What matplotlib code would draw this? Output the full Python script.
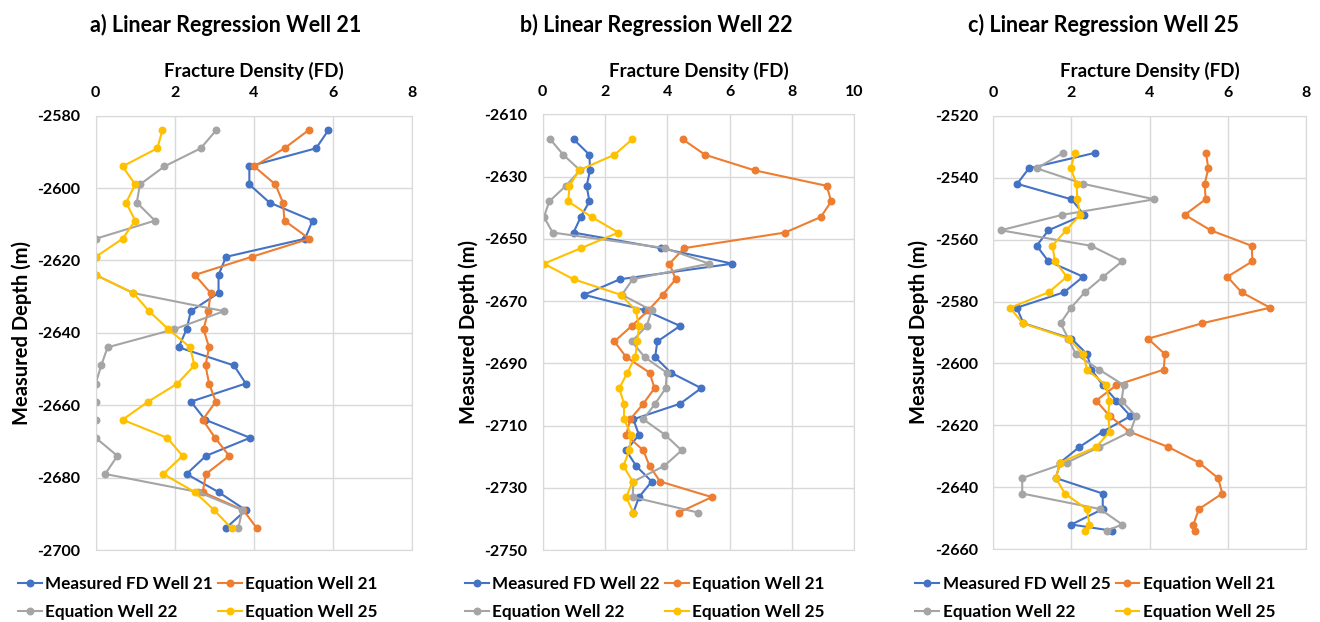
import matplotlib.pyplot as plt
import numpy as np

plt.rcParams['font.family'] = ['Lato', 'DejaVu Sans']
plt.rcParams['font.weight'] = 'bold'
plt.rcParams['axes.unicode_minus'] = False   # plain hyphen like the Excel original

# Excel default series colours
c_blue, c_orange, c_gray, c_yellow = '#4472C4', '#ED7D31', '#A5A5A5', '#FFC000'

# ---- a) Well 21 ----
depth_a = [-2584, -2589, -2594, -2599, -2604, -2609, -2614, -2619, -2624, -2629, -2634, -2639,
           -2644, -2649, -2654, -2659, -2664, -2669, -2674, -2679, -2684, -2689, -2694]
meas_a = [5.89, 5.58, 3.89, 3.89, 4.40, 5.49, 5.30, 3.30, 3.11, 3.11, 2.41, 2.30,
          2.10, 3.50, 3.80, 2.41, 2.77, 3.91, 2.79, 2.30, 3.11, 3.80, 3.29]
eq21_a = [5.39, 4.78, 4.01, 4.55, 4.74, 4.78, 5.41, 3.95, 2.51, 2.91, 2.85, 2.73,
          2.87, 2.78, 2.87, 3.04, 2.71, 3.02, 3.38, 2.79, 2.71, 3.74, 4.08]
eq22_a = [3.05, 2.66, 1.74, 1.12, 1.04, 1.50, 0.0, 0.0, 0.0, 0.95, 3.25, 1.99,
          0.30, 0.14, 0.0, 0.0, 0.0, 0.0, 0.55, 0.24, 2.60, 3.71, 3.61]
eq25_a = [1.69, 1.56, 0.68, 1.00, 0.77, 1.00, 0.68, 0.0, 0.0, 0.95, 1.35, 1.84,
          2.39, 2.50, 2.07, 1.33, 0.68, 1.81, 2.20, 1.71, 2.51, 3.00, 3.44]

# ---- b) Well 22 ----
depth_b = [-2618, -2623, -2628, -2633, -2638, -2643, -2648, -2653, -2658, -2663, -2668, -2673, -2678,
           -2683, -2688, -2693, -2698, -2703, -2708, -2713, -2718, -2723, -2728, -2733, -2738]
meas_b = [0.99, 1.50, 1.52, 1.41, 1.50, 1.22, 0.99, 3.79, 6.09, 2.48, 1.33, 3.29, 4.41,
          3.68, 3.61, 4.11, 5.09, 4.41, 2.91, 3.09, 2.68, 3.00, 3.50, 3.09, 2.91]
eq21_b = [4.49, 5.21, 6.80, 9.12, 9.26, 8.93, 7.78, 4.54, 4.07, 4.27, 3.85, 3.39, 2.86,
          2.30, 2.68, 3.43, 3.59, 3.23, 2.81, 2.68, 3.23, 3.43, 3.77, 5.43, 4.36]
eq22_b = [0.24, 0.66, 1.20, 0.74, 0.21, 0.04, 0.32, 3.93, 5.34, 2.89, 2.54, 3.50, 3.34,
          2.86, 3.27, 3.98, 3.95, 3.61, 3.23, 3.93, 4.46, 3.90, 2.91, 2.89, 5.00]
eq25_b = [2.88, 2.30, 1.17, 0.86, 0.82, 1.57, 2.43, 1.23, 0.04, 0.99, 2.51, 2.99, 3.09,
          3.04, 2.97, 2.72, 2.46, 2.61, 2.61, 2.84, 2.78, 2.59, 2.89, 2.68, 2.91]

# ---- c) Well 25 ----
depth_c = [-2532, -2537, -2542, -2547, -2552, -2557, -2562, -2567, -2572, -2577, -2582, -2587, -2592,
           -2597, -2602, -2607, -2612, -2617, -2622, -2627, -2632, -2637, -2642, -2647, -2652, -2654]
meas_c = [2.60, 0.91, 0.61, 2.00, 2.32, 1.41, 1.11, 1.41, 2.30, 1.81, 0.60, 0.77, 2.00,
          2.40, 2.51, 2.80, 3.15, 3.51, 2.80, 2.20, 1.71, 1.60, 2.80, 2.80, 2.00, 3.03]
eq21_c = [5.44, 5.50, 5.41, 5.43, 4.90, 5.56, 6.61, 6.63, 5.99, 6.35, 7.08, 5.35, 3.96,
          4.39, 4.36, 3.15, 2.63, 2.98, 3.48, 4.48, 5.26, 5.75, 5.86, 5.26, 5.12, 5.16]
eq22_c = [1.79, 1.11, 2.30, 4.12, 1.77, 0.19, 2.50, 3.30, 2.81, 2.34, 1.99, 1.72, 1.92,
          2.11, 2.71, 3.34, 3.28, 3.65, 3.51, 2.71, 1.88, 0.74, 0.74, 2.73, 3.30, 2.90]
eq25_c = [2.09, 1.98, 2.13, 2.15, 2.22, 1.86, 1.51, 1.58, 1.88, 1.42, 0.43, 0.75, 1.94,
          2.30, 2.40, 2.88, 2.97, 2.94, 2.98, 2.63, 1.71, 1.60, 1.83, 2.39, 2.46, 2.34]

W, H = 1320, 622
fig = plt.figure(figsize=(W / 100, H / 100), dpi=100)

# pixel boxes (left, right, top, bottom) of each plot area
boxes = [(95.7, 411.7, 115.7, 550), (542.7, 854.2, 114.3, 550), (993.3, 1306, 115.7, 549.3)]
panels = [
    ('a) Linear Regression Well 21', 226, depth_a, [meas_a, eq21_a, eq22_a, eq25_a], 'Measured FD Well 21',
     (0, 8), np.arange(0, 9, 2), (-2700, -2580)),
    ('b) Linear Regression Well 22', 656, depth_b, [meas_b, eq21_b, eq22_b, eq25_b], 'Measured FD Well 22',
     (0, 10), np.arange(0, 11, 2), (-2750, -2610)),
    ('c) Linear Regression Well 25', 1103, depth_c, [meas_c, eq21_c, eq22_c, eq25_c], 'Measured FD Well 25',
     (0, 8), np.arange(0, 9, 2), (-2660, -2520)),
]
colors = [c_blue, c_orange, c_gray, c_yellow]

for (title, tx, depth, series, meas_name, xlim, xticks, ylim), (l, r, t, b) in zip(panels, boxes):
    ax = fig.add_axes([l / W, 1 - b / H, (r - l) / W, (b - t) / H])
    names = [meas_name, 'Equation Well 21', 'Equation Well 22', 'Equation Well 25']
    handles = []
    for vals, col, nm in zip(series, colors, names):
        h, = ax.plot(vals, depth, color=col, lw=1.5, marker='o', ms=4.7, label=nm)
        handles.append(h)
    ax.set_xlim(*xlim)
    ax.set_ylim(*ylim)
    ax.set_xticks(xticks)
    ax.set_yticks(np.arange(ylim[0], ylim[1] + 1, 20))
    ax.xaxis.tick_top()
    ax.tick_params(length=0, labelsize=11.5, pad=11)
    for lab in ax.get_xticklabels() + ax.get_yticklabels():
        lab.set_fontweight('bold')
    ax.grid(True, color='#D9D9D9', lw=1)
    ax.set_axisbelow(True)
    for sp in ax.spines.values():
        sp.set_color('#D9D9D9')
    ax.set_xlabel('Fracture Density (FD)', fontsize=13.5, fontweight='bold')
    ax.xaxis.set_label_position('top')
    ax.xaxis.set_label_coords(0.5, (b - 77) / (b - t))
    ax.set_ylabel('Measured Depth (m)', fontsize=14.5, fontweight='bold')
    ax.yaxis.set_label_coords(-64 / (r - l), 0.5)
    fig.text(tx / W, 1 - 25 / H, title, ha='center', va='center', fontsize=15.5, fontweight='bold')
    # legend: row 1 = measured, eq21 ; row 2 = eq22, eq25
    order = [0, 2, 1, 3]
    ax.legend([handles[i] for i in order], [names[i] for i in order], ncol=2, frameon=False,
              loc='upper left', bbox_to_anchor=((l - 78) / W, 1 - 576 / H), bbox_transform=fig.transFigure,
              prop={'size': 12.3, 'weight': 'bold'}, handlelength=1.4, handletextpad=0.2, columnspacing=0.3,
              borderpad=0, borderaxespad=0, labelspacing=0.7)

fig.savefig('out.png', dpi=100)
